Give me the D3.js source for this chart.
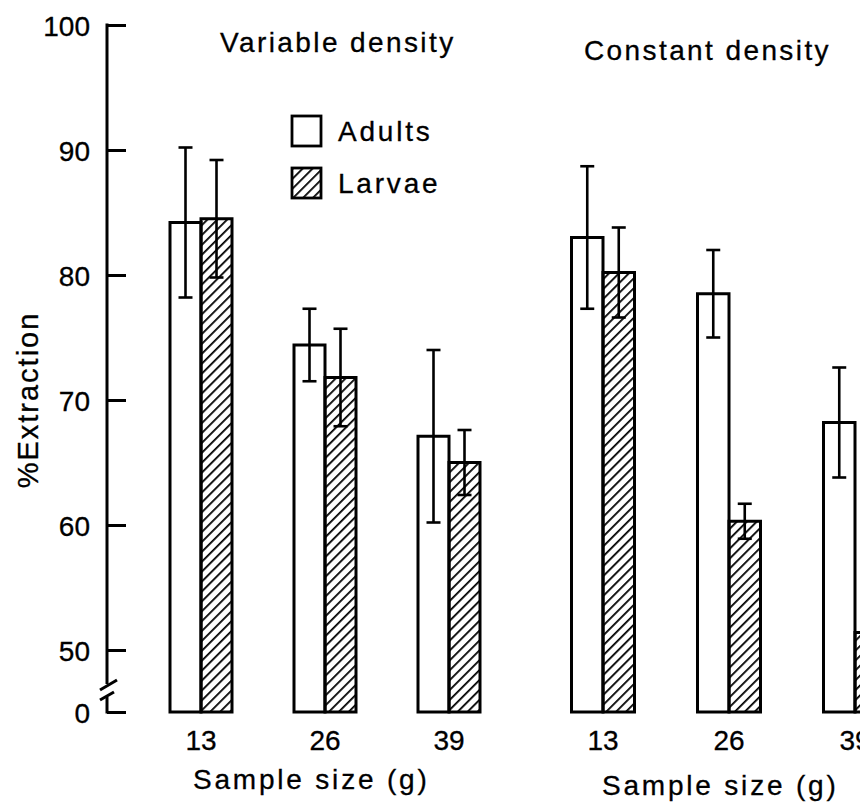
<!DOCTYPE html>
<html>
<head>
<meta charset="utf-8">
<script src="https://cdn.jsdelivr.net/npm/d3@7"></script>
<style>
    body { margin: 0; background: #fff; }
    svg text { font-family: "Liberation Sans", Arial, sans-serif; fill: #000; stroke: #000; stroke-width: 0.3px; }
</style>
</head>
<body>
<div id="chart"></div>
<script>
'use strict';

// sample sizes (g) shown under each group
const sampleSizes = ["13", "26", "39"];
const panelTitles = ["Variable density", "Constant density"];
const seriesNames = ["Adults", "Larvae"];

// mean %extraction and error half-width
const variableAdults = [84.2, 74.4, 67.1];
const variableAdultsErr = [6.0, 2.9, 6.9];
const variableLarvae = [84.5, 71.8, 65.0];
const variableLarvaeErr = [4.7, 3.9, 2.6];
const constantAdults = [83.0, 78.5, 68.2];
const constantAdultsErr = [5.7, 3.5, 4.4];
const constantLarvae = [80.2, 60.3, 51.4];
const constantLarvaeErr = [3.6, 1.4, 1.5];

const yTicks = [0, 50, 60, 70, 80, 90, 100];

const width = 860, height = 802;

const svg = d3.select("#chart")
    .append("svg")
    .attr("width", width)
    .attr("height", height);

// hatch for larvae bars
svg.append("defs")
    .append("pattern")
    .attr("id", "hatch")
    .attr("patternUnits", "userSpaceOnUse")
    .attr("width", 7)
    .attr("height", 7)
    .attr("patternTransform", "rotate(45)")
    .append("line")
    .attr("x1", 0).attr("y1", 0)
    .attr("x2", 0).attr("y2", 7)
    .attr("stroke", "#000")
    .attr("stroke-width", 3.6);

// broken y scale: 0-50 squeezed under the break
const y = d3.scaleLinear()
    .domain([0, 50, 100])
    .range([712, 650, 25]);

const axisX = 107;

const yAxis = svg.append("g")
    .attr("transform", "translate(" + axisX + ",0)")
    .call(d3.axisLeft(y).tickValues(yTicks).tickSize(-19).tickPadding(17));

yAxis.select(".domain").remove();
yAxis.selectAll(".tick line").attr("stroke", "#000").attr("stroke-width", 3);
yAxis.selectAll(".tick text")
    .style("font-size", "28px")
    .attr("dy", "0.36em");

// axis line with a break near the bottom
const axisLine = svg.append("g")
    .attr("stroke", "#000")
    .attr("stroke-width", 3)
    .attr("fill", "none");

axisLine.append("line")
    .attr("x1", axisX).attr("x2", axisX)
    .attr("y1", y(100) - 1.5).attr("y2", 684);
axisLine.append("line")
    .attr("x1", axisX).attr("x2", axisX)
    .attr("y1", 697).attr("y2", y(0) + 1.5);
axisLine.append("line")
    .attr("x1", 100).attr("y1", 690)
    .attr("x2", 117).attr("y2", 680);
axisLine.append("line")
    .attr("x1", 100).attr("y1", 700)
    .attr("x2", 114).attr("y2", 692);

svg.append("text")
    .attr("transform", "translate(38,400) rotate(-90)")
    .style("text-anchor", "middle")
    .style("font-size", "29px")
    .style("letter-spacing", "2px")
    .text("%Extraction");

// one panel per density treatment
const panels = [
    { title: panelTitles[0], range: [139, 511], titleX: 220, titleY: 52, labelX: 193, labelY: 789,
      adults: variableAdults, adultsErr: variableAdultsErr, larvae: variableLarvae, larvaeErr: variableLarvaeErr },
    { title: panelTitles[1], range: [540, 918], titleX: 584, titleY: 60, labelX: 602, labelY: 795,
      adults: constantAdults, adultsErr: constantAdultsErr, larvae: constantLarvae, larvaeErr: constantLarvaeErr }
];

panels.forEach((p) => {
    const x0 = d3.scaleBand()
        .domain(sampleSizes)
        .range(p.range)
        .paddingInner(0.5)
        .paddingOuter(0.25);

    const x1 = d3.scaleBand()
        .domain(seriesNames)
        .range([0, x0.bandwidth()]);

    const rows = [];
    sampleSizes.forEach((s, i) => {
        rows.push({ size: s, series: "Adults", value: p.adults[i], err: p.adultsErr[i] });
        rows.push({ size: s, series: "Larvae", value: p.larvae[i], err: p.larvaeErr[i] });
    });

    const g = svg.append("g");

    g.selectAll(".bar")
        .data(rows)
        .enter()
        .append("rect")
        .attr("class", "bar")
        .attr("x", (d) => x0(d.size) + x1(d.series))
        .attr("y", (d) => y(d.value))
        .attr("width", x1.bandwidth())
        .attr("height", (d) => y(0) - y(d.value))
        .attr("fill", (d) => d.series == "Adults" ? "#fff" : "url(#hatch)")
        .attr("stroke", "#000")
        .attr("stroke-width", 3);

    // error bars
    const cap = 7;
    const eb = g.selectAll(".err")
        .data(rows)
        .enter()
        .append("g")
        .attr("class", "err")
        .attr("stroke", "#000")
        .attr("stroke-width", 2.6);

    const cx = (d) => x0(d.size) + x1(d.series) + x1.bandwidth() / 2;

    eb.append("line")
        .attr("x1", cx).attr("x2", cx)
        .attr("y1", (d) => y(d.value + d.err))
        .attr("y2", (d) => y(d.value - d.err));
    eb.append("line")
        .attr("x1", (d) => cx(d) - cap).attr("x2", (d) => cx(d) + cap)
        .attr("y1", (d) => y(d.value + d.err))
        .attr("y2", (d) => y(d.value + d.err));
    eb.append("line")
        .attr("x1", (d) => cx(d) - cap).attr("x2", (d) => cx(d) + cap)
        .attr("y1", (d) => y(d.value - d.err))
        .attr("y2", (d) => y(d.value - d.err));

    // x tick labels
    g.selectAll(".size-label")
        .data(sampleSizes)
        .enter()
        .append("text")
        .attr("class", "size-label")
        .attr("x", (d) => x0(d) + x0.bandwidth() / 2)
        .attr("y", 750)
        .style("text-anchor", "middle")
        .style("font-size", "28px")
        .text((d) => d);

    g.append("text")
        .attr("x", p.labelX)
        .attr("y", p.labelY)
        .style("font-size", "28px")
        .style("letter-spacing", "2.8px")
        .text("Sample size (g)");

    g.append("text")
        .attr("x", p.titleX)
        .attr("y", p.titleY)
        .style("font-size", "28px")
        .style("letter-spacing", "2.4px")
        .text(p.title);
});

// legend
const legend = svg.append("g")
    .attr("transform", "translate(292,116)");

const legendRow = legend.selectAll(".legend-row")
    .data(seriesNames)
    .enter()
    .append("g")
    .attr("class", "legend-row")
    .attr("transform", (d, i) => "translate(0," + (i * 52) + ")");

legendRow.append("rect")
    .attr("width", 29)
    .attr("height", 30)
    .attr("fill", (d) => d == "Adults" ? "#fff" : "url(#hatch)")
    .attr("stroke", "#000")
    .attr("stroke-width", 2.8);

legendRow.append("text")
    .attr("x", 46)
    .attr("y", 25)
    .style("font-size", "28px")
    .style("letter-spacing", "2.8px")
    .text((d) => d);
</script>
</body>
</html>
